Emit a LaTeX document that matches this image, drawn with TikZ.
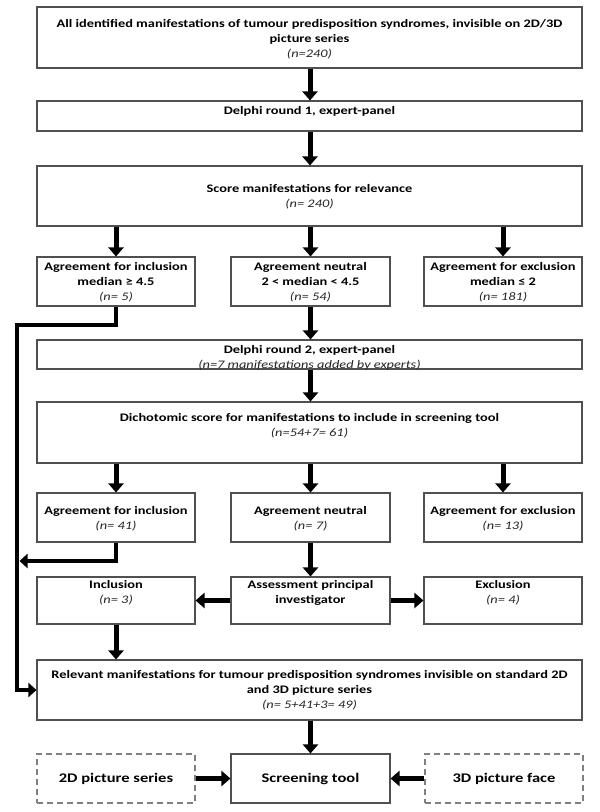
\documentclass[tikz,border=0pt]{standalone}
\usepackage{fontspec}
\setmainfont{Carlito}[FakeStretch=1.25]
\usetikzlibrary{arrows.meta}
\definecolor{boxgray}{HTML}{505050}
\definecolor{dashgray}{HTML}{808080}
\begin{document}
\begin{tikzpicture}[x=1pt,y=-1pt,
  box/.style={draw=boxgray, line width=1.1pt, inner sep=0pt, fill=white},
  dbox/.style={draw=dashgray, line width=1.1pt, dash pattern=on 6pt off 4pt, inner sep=0pt},
  txt/.style={align=center, font=\fontsize{11.5}{15}\selectfont\bfseries, inner sep=0pt},
  big/.style={font=\fontsize{13.2}{15}\selectfont\bfseries},
  arr/.style={line width=5pt, -{Triangle[length=9pt,width=15pt]}},
  connarr/.style={line width=4.5pt, line join=miter, -{Triangle[length=8pt,width=14pt]}}]
\newcommand{\nn}[1]{{\mdseries\itshape\color{black!85}#1}}
\useasboundingbox (0,0) rectangle (600,812);
% boxes
\node[box, minimum width=545pt, minimum height=61pt] (top) at (309.5,37.5) {};
\node[box, minimum width=545pt, minimum height=30pt] (d1) at (309.5,116) {};
\node[box, minimum width=545pt, minimum height=60pt] (score) at (309.5,196) {};
\node[box, minimum width=158pt, minimum height=49pt] (a1) at (116,281.5) {};
\node[box, minimum width=159pt, minimum height=49pt] (b1) at (310.5,281.5) {};
\node[box, minimum width=158pt, minimum height=49pt] (c1) at (503,281.5) {};
\node[box, minimum width=545pt, minimum height=29pt] (d2) at (309.5,354.5) {};
\node[box, minimum width=545pt, minimum height=61pt] (dich) at (309.5,432.5) {};
\node[box, minimum width=158pt, minimum height=49pt] (a2) at (116,517.5) {};
\node[box, minimum width=159pt, minimum height=49pt] (b2) at (310.5,517.5) {};
\node[box, minimum width=158pt, minimum height=49pt] (c2) at (503,517.5) {};
\node[box, minimum width=158pt, minimum height=47pt] (a3) at (116,600.5) {};
\node[box, minimum width=159pt, minimum height=47pt] (b3) at (310.5,600.5) {};
\node[box, minimum width=158pt, minimum height=47pt] (c3) at (503,600.5) {};
\node[box, minimum width=545pt, minimum height=60pt] (rel) at (309.5,690) {};
\node[dbox, minimum width=158pt, minimum height=49pt] (p2d) at (116,778.5) {};
\node[box, minimum width=159pt, minimum height=49pt] (tool) at (310.5,778.5) {};
\node[dbox, minimum width=158pt, minimum height=49pt] (p3d) at (504,778.5) {};
% texts
\node[txt] (top-t) at (309.5,39) {All identified manifestations of tumour predisposition syndromes, invisible on 2D/3D\\picture series\\\nn{(n=240)}};
\node[txt] (d1-t) at (309.5,111.5) {Delphi round 1, expert-panel};
\node[txt] (score-t) at (309.5,196.5) {Score manifestations for relevance\\\nn{(n= 240)}};
\node[txt] (a1-t) at (116,282.5) {Agreement for inclusion\\median ≥ 4.5\\\nn{(n= 5)}};
\node[txt] (b1-t) at (310.5,282.5) {Agreement neutral\\2 < median < 4.5\\\nn{(n= 54)}};
\node[txt] (c1-t) at (503,282.5) {Agreement for exclusion\\median ≤ 2\\\nn{(n= 181)}};
\node[txt] (d2-t) at (309.5,358) {Delphi round 2, expert-panel\\\nn{(n=7 manifestations added by experts)}};
\node[txt] (dich-t) at (309.5,425.5) {Dichotomic score for manifestations to include in screening tool\\\nn{(n=54+7= 61)}};
\node[txt] (a2-t) at (116,518.5) {Agreement for inclusion\\\nn{(n= 41)}};
\node[txt] (b2-t) at (310.5,518.5) {Agreement neutral\\\nn{(n= 7)}};
\node[txt] (c2-t) at (503,518.5) {Agreement for exclusion\\\nn{(n= 13)}};
\node[txt] (a3-t) at (116,593) {Inclusion\\\nn{(n= 3)}};
\node[txt] (b3-t) at (310.5,593) {Assessment principal\\investigator};
\node[txt] (c3-t) at (503,593) {Exclusion\\\nn{(n= 4)}};
\node[txt] (rel-t) at (309.5,690.5) {Relevant manifestations for tumour predisposition syndromes invisible on standard 2D\\and 3D picture series\\\nn{(n= 5+41+3= 49)}};
\node[txt, big] (p2d-t) at (116,778.5) {2D picture series};
\node[txt, big] (tool-t) at (310.5,778.5) {Screening tool};
\node[txt, big] (p3d-t) at (504,778.5) {3D picture face};
% arrows
\draw[arr] (top.south -| 310,0) -- (d1.north -| 310,0);
\draw[arr] (d1.south -| 310,0) -- (score.north -| 310,0);
\draw[arr] (score.south -| a1.north) -- (a1.north);
\draw[arr] (score.south -| b1.north) -- (b1.north);
\draw[arr] (score.south -| c1.north) -- (c1.north);
\draw[arr] (b1.south) -- (d2.north -| b1.south);
\draw[arr] (d2.south -| b1.south) -- (dich.north -| b1.south);
\draw[arr] (dich.south -| a2.north) -- (a2.north);
\draw[arr] (dich.south -| b2.north) -- (b2.north);
\draw[arr] (dich.south -| c2.north) -- (c2.north);
\draw[arr] (b2.south) -- (b3.north);
\draw[arr] (b3.west) -- (a3.east);
\draw[arr] (b3.east) -- (c3.west);
\draw[arr] (a3.south) -- (rel.north -| a3.south);
\draw[arr] (rel.south -| b3.south) -- (tool.north);
\draw[arr] (p2d.east) -- (tool.west);
\draw[arr] (p3d.west) -- (tool.east);
% left connectors
\coordinate (k1) at (116,325);
\coordinate (k2) at (17,325);
\coordinate (k3) at (17,690);
\draw[connarr] (a1.south) -- (k1) -- (k2) -- (k3) -- (rel.west);
\coordinate (k4) at (116,561);
\coordinate (k5) at (19.5,561);
\draw[connarr] (a2.south) -- (k4) -- (k5);
\end{tikzpicture}
\end{document}
